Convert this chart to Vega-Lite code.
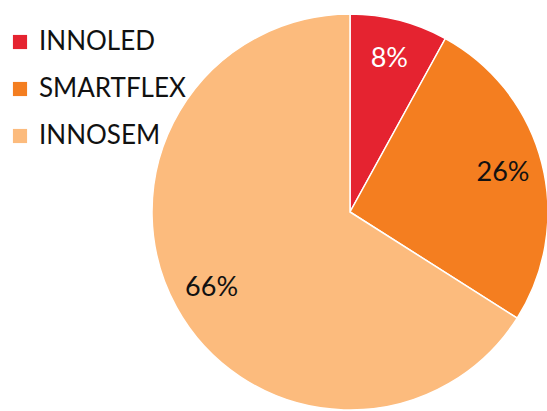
{
  "$schema": "https://vega.github.io/schema/vega-lite/v6.json",
  "width": 396,
  "height": 396,
  "autosize": {"type": "none"},
  "padding": {"left": 152, "top": 14, "right": 0, "bottom": 0},
  "background": "white",
  "config": {"view": {"stroke": null}, "font": "Lato"},
  "data": {
    "values": [
      {"company": "INNOLED", "share": 8, "label": "8%", "order": 1},
      {"company": "SMARTFLEX", "share": 26, "label": "26%", "order": 2},
      {"company": "INNOSEM", "share": 66, "label": "66%", "order": 3}
    ]
  },
  "encoding": {
    "theta": {"field": "share", "type": "quantitative", "stack": true},
    "order": {"field": "order", "type": "quantitative"}
  },
  "layer": [
    {
      "mark": {"type": "arc", "outerRadius": 198, "stroke": "white", "strokeWidth": 1.5},
      "encoding": {
        "color": {
          "field": "company",
          "type": "nominal",
          "sort": ["INNOLED", "SMARTFLEX", "INNOSEM"],
          "scale": {"domain": ["INNOLED", "SMARTFLEX", "INNOSEM"], "range": ["#E52330", "#F47E20", "#FCBB7D"]},
          "legend": {
            "title": null,
            "orient": "none",
            "legendX": -145,
            "legendY": 15,
            "symbolType": "square",
            "symbolSize": 200,
            "symbolStrokeWidth": 0,
            "labelFontSize": 26,
            "labelFont": "Lato",
            "labelColor": "#111111",
            "labelOffset": 6,
            "rowPadding": 21,
            "labelLimit": 300
          }
        }
      }
    },
    {
      "mark": {"type": "text", "radius": 158, "fontSize": 27, "font": "Lato"},
      "encoding": {
        "text": {"field": "label"},
        "color": {
          "condition": {"test": "datum.company === 'INNOLED'", "value": "white"},
          "value": "#111111"
        }
      }
    }
  ]
}
